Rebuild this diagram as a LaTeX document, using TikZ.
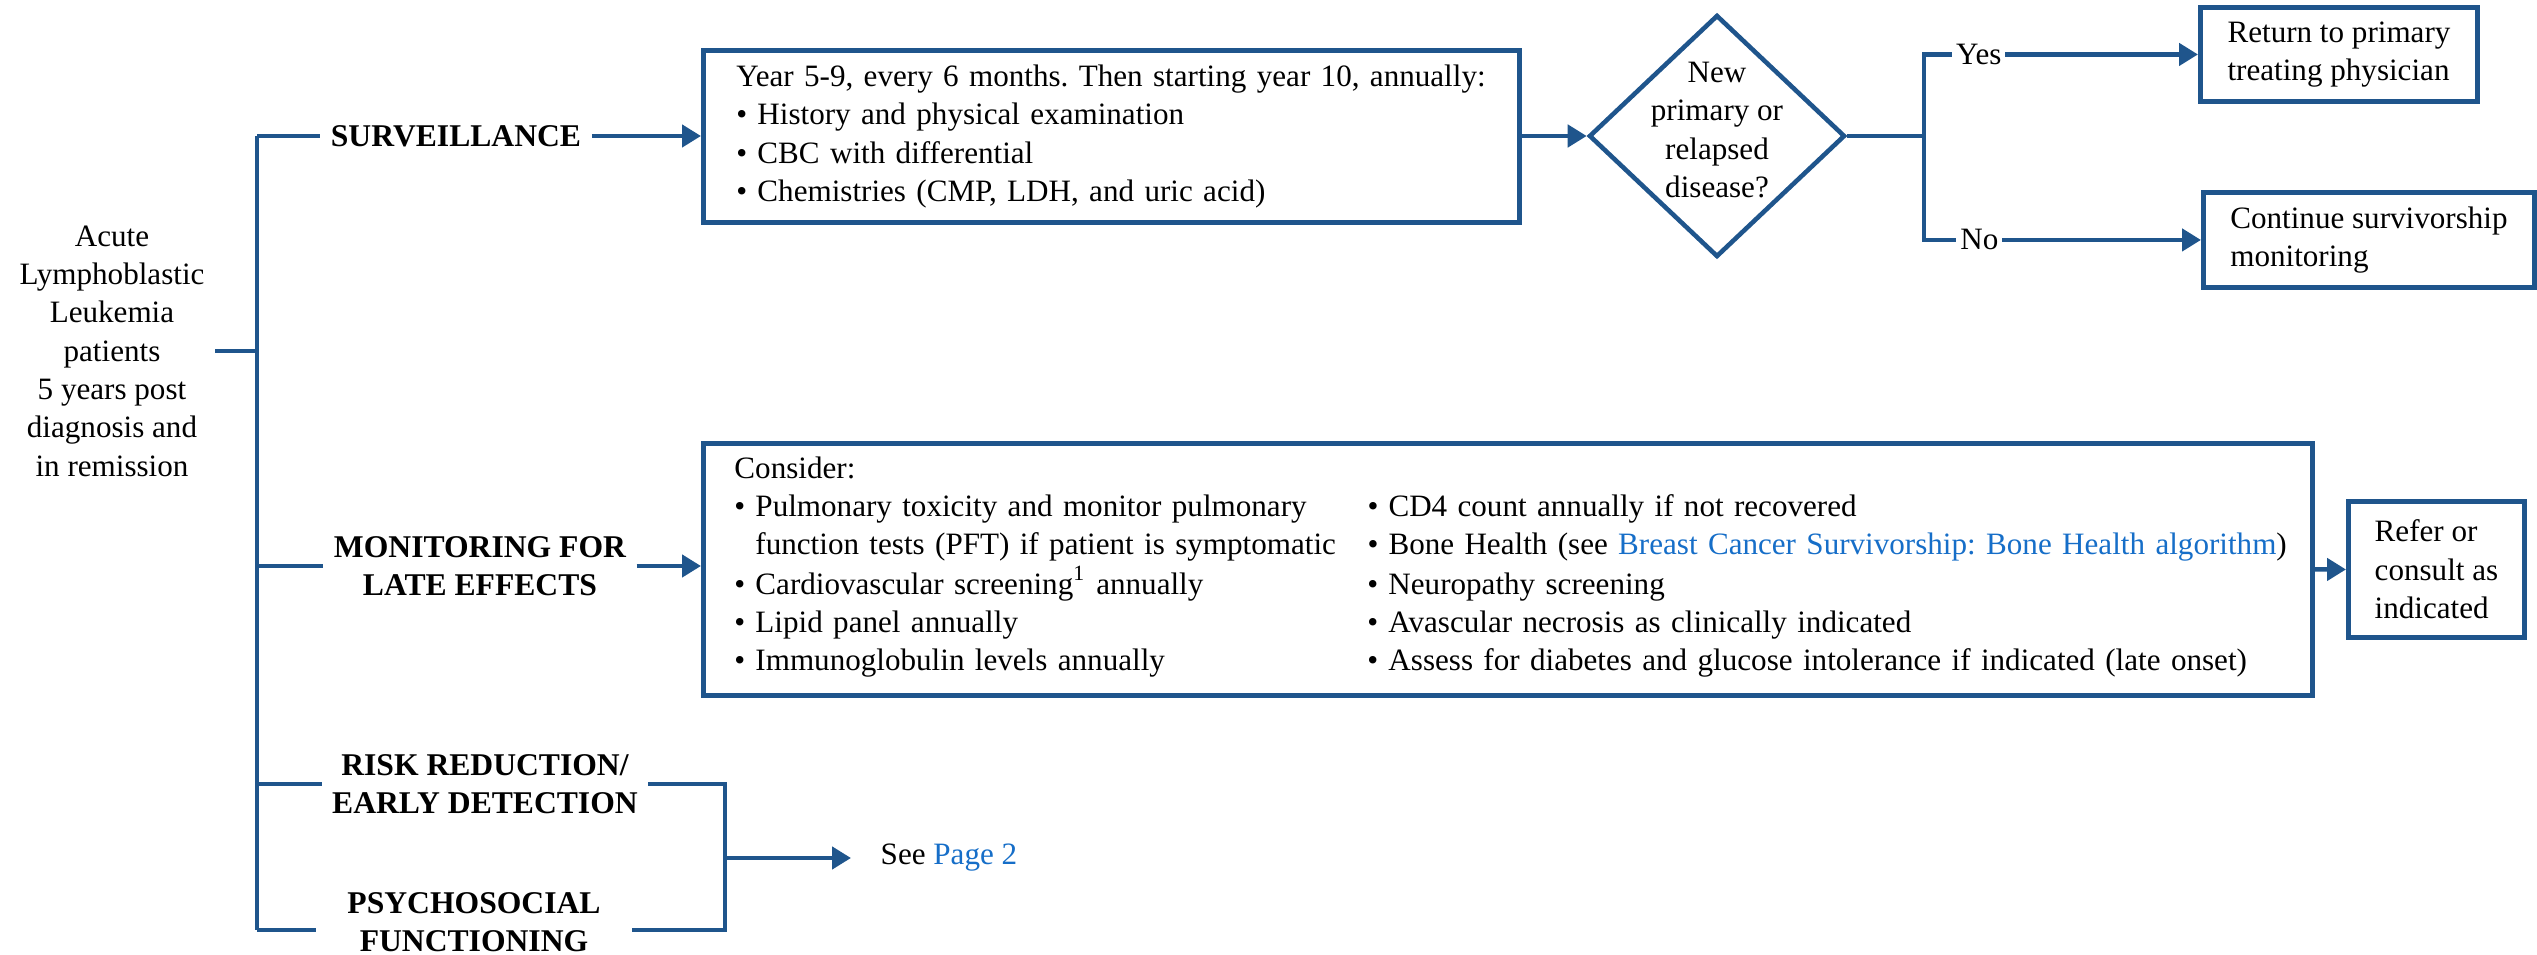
\documentclass[tikz,border=0pt]{standalone}
\usepackage{fontspec}
\setmainfont{Liberation Serif}
\usetikzlibrary{arrows.meta,shapes.geometric}
\definecolor{flow}{RGB}{31,85,140}
\definecolor{link}{RGB}{22,110,200}
\newcommand{\bul}{\makebox[2.1mm][l]{\textbullet}}

\begin{document}
\frenchspacing
\begin{tikzpicture}[
    x=0.1mm,
    y=-0.1mm,
    font=\fontsize{8.85}{10.9}\selectfont,
    wire/.style={draw=flow, line width=1.3pt},
    arr/.style={wire, -{Triangle[length=1.9mm,width=2.2mm]}},
    box/.style={draw=flow, line width=1.4pt, anchor=north west, align=left},
    head/.style={font=\fontsize{9}{10.9}\selectfont\bfseries, align=center, inner sep=1mm},
    lbl/.style={fill=white, inner sep=0.4mm}
]
\useasboundingbox (0,0) rectangle (2537,955);

\node[align=center, inner sep=1mm] (pat) at (112,351)
    {Acute\\Lymphoblastic\\Leukemia\\patients\\5 years post\\diagnosis and\\in remission};

\coordinate (t1) at (257,136);
\coordinate (t4) at (257,930);
\coordinate (rj1) at (725,784);
\coordinate (rj2) at (725,930);
\coordinate (rjm) at (725,858);
\coordinate (fork) at (1924,136);

\node[head] (surv) at (456,136) {SURVEILLANCE};
\node[head] (mhead) at (480,566) {MONITORING FOR\\LATE EFFECTS};
\node[head] (risk) at (485,784) {RISK REDUCTION/\\EARLY DETECTION};
\node[head, minimum width=31.4mm] (psy) at (474,922) {PSYCHOSOCIAL\\FUNCTIONING};

\node[box, inner xsep=3.3mm, inner ysep=0mm, text width=75mm, minimum height=17.2mm] (yr) at (701,48)
    {Year 5-9, every 6 months. Then starting year 10, annually:\\
     \bul History and physical examination\\
     \bul CBC with differential\\
     \bul Chemistries (CMP, LDH, and uric acid)};

\node[diamond, draw=flow, line width=1.3pt, minimum width=25.6mm, minimum height=24.2mm, inner sep=0mm] (dec) at (1717,136) {};
\node[align=center, inner sep=0mm] (dectxt) at (1717,130) {New\\primary or\\relapsed\\disease?};

\node[box, minimum width=27.7mm, minimum height=9.4mm] (ret) at (2198,5)
    {Return to primary\\treating physician};
\node[box, minimum width=33.1mm, minimum height=9.5mm] (cont) at (2201,190)
    {Continue survivorship\\monitoring};

\node[box, inner xsep=3.1mm, inner ysep=0mm, text width=154.7mm, minimum height=25.2mm] (mon) at (701,441)
    {Consider:\\
     \begin{tabular}[t]{@{}p{63.3mm}@{}l@{}}
     \bul Pulmonary toxicity and monitor pulmonary & \bul CD4 count annually if not recovered\\
     \hspace{2.1mm}function tests (PFT) if patient is symptomatic & \bul Bone Health (see \textcolor{link}{Breast Cancer Survivorship: Bone Health algorithm})\\
     \bul Cardiovascular screening\textsuperscript{1} annually & \bul Neuropathy screening\\
     \bul Lipid panel annually & \bul Avascular necrosis as clinically indicated\\
     \bul Immunoglobulin levels annually & \bul Assess for diabetes and glucose intolerance if indicated (late onset)
     \end{tabular}};

\node[box, minimum width=17.6mm, minimum height=13.6mm] (refer) at (2346,499)
    {Refer or\\consult as\\indicated};

\node[anchor=west, inner sep=0mm] (see) at (880,858) {See \textcolor{link}{Page 2}};

\draw[wire] (t1) -- (t4);
\draw[wire] (pat.east) -- (t1 |- pat.east);
\draw[wire] (t1) -- (surv.west);
\draw[wire] (t1 |- mhead) -- (mhead.west);
\draw[wire] (t1 |- risk) -- (risk.west);
\draw[wire] (t4) -- (t4 -| psy.west);
\draw[wire] (risk.east) -- (rj1) -- (rj2) -- (t4 -| psy.east);
\draw[arr, shorten >=2.9mm] (rjm) -- (see.west);

\draw[arr] (surv.east) -- (surv.east -| yr.west);
\draw[arr] (mhead.east) -- (mhead.east -| mon.west);
\draw[arr] (dec.west -| yr.east) -- (dec.west);
\draw[wire] (dec.east) -- (fork);
\draw[arr] (fork) |- (ret.west) node[lbl, pos=0.6] {Yes};
\draw[arr] (fork) |- (cont.west) node[lbl, pos=0.6] {No};
\draw[arr] (mon.east) -- (refer.west);
\end{tikzpicture}
\end{document}
